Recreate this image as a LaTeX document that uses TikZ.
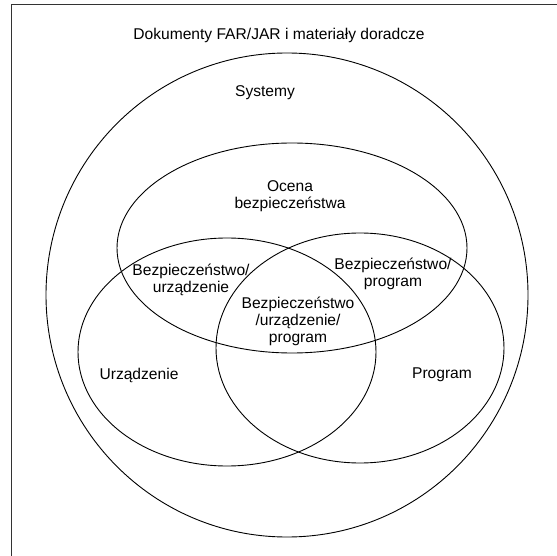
\documentclass[tikz,border=0pt]{standalone}
\usepackage{fontspec}
\setmainfont{Liberation Sans}
\begin{document}
\begin{tikzpicture}[x=1pt,y=-1pt,
  lbl/.style={align=center, inner sep=0pt, font=\fontsize{15.6}{17}\selectfont},
  ring/.style={line width=0.9pt, draw=black}]
\useasboundingbox (0,0) rectangle (557,556);
% frame
\draw[line width=1.8pt, black!80] (11.5,556) -- (11.5,4.5) -- (557,4.5);
% sets
\draw[ring] (287,295) ellipse [x radius=241, y radius=242];
\draw[ring] (292,248) ellipse [x radius=175, y radius=105];
\draw[ring] (227,352) ellipse [x radius=149, y radius=114];
\draw[ring] (360,348) ellipse [x radius=144, y radius=115];
% labels
\node[lbl] (docs) at (279,35) {Dokumenty FAR/JAR i materiały doradcze};
\node[lbl] (sys) at (265,93) {Systemy};
\node[lbl] (ocena) at (290,196) {Ocena\\bezpieczeństwa};
\node[lbl] (bu) at (191,280) {Bezpieczeństwo/\\urządzenie};
\node[lbl] (bp) at (393,274) {Bezpieczeństwo/\\program};
\node[lbl] (bup) at (298,321) {Bezpieczeństwo\\/urządzenie/\\program};
\node[lbl] (urz) at (139,375) {Urządzenie};
\node[lbl] (prog) at (442,375) {Program};
\end{tikzpicture}
\end{document}
